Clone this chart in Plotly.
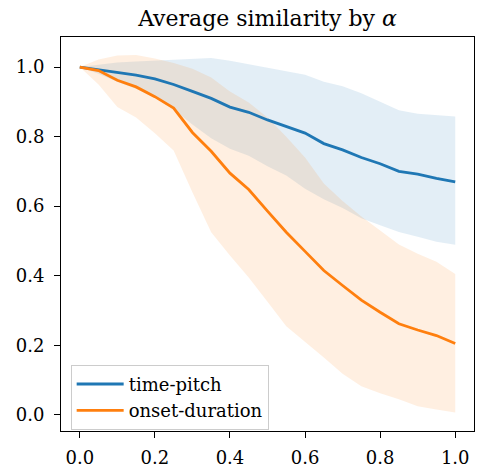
import plotly.graph_objects as go

alpha = [0.00, 0.05, 0.10, 0.15, 0.20, 0.25, 0.30, 0.35, 0.40, 0.45, 0.50,
         0.55, 0.60, 0.65, 0.70, 0.75, 0.80, 0.85, 0.90, 0.95, 1.00]

tp_mean = [1.000, 0.993, 0.985, 0.977, 0.966, 0.950, 0.930, 0.910, 0.885, 0.870, 0.848,
           0.828, 0.810, 0.780, 0.762, 0.740, 0.722, 0.700, 0.692, 0.680, 0.670]
tp_upper = [1.000, 1.006, 1.013, 1.016, 1.019, 1.022, 1.025, 1.026, 1.018, 1.008, 1.000,
            0.990, 0.978, 0.958, 0.945, 0.925, 0.900, 0.876, 0.866, 0.862, 0.858]
tp_lower = [1.000, 0.981, 0.958, 0.938, 0.913, 0.878, 0.835, 0.795, 0.765, 0.745, 0.715,
            0.688, 0.650, 0.620, 0.595, 0.565, 0.545, 0.526, 0.512, 0.498, 0.489]

od_mean = [1.000, 0.990, 0.962, 0.943, 0.915, 0.882, 0.812, 0.758, 0.695, 0.648, 0.586,
           0.525, 0.470, 0.415, 0.372, 0.330, 0.295, 0.262, 0.244, 0.228, 0.205]
od_upper = [1.000, 1.022, 1.033, 1.035, 1.025, 1.012, 0.995, 0.970, 0.930, 0.898, 0.855,
            0.800, 0.740, 0.665, 0.615, 0.570, 0.530, 0.490, 0.463, 0.440, 0.405]
od_lower = [1.000, 0.950, 0.885, 0.855, 0.810, 0.760, 0.640, 0.525, 0.458, 0.395, 0.325,
            0.255, 0.210, 0.165, 0.118, 0.082, 0.062, 0.045, 0.025, 0.015, 0.007]

series_names = ["time-pitch", "onset-duration"]
x_ticks = [0.0, 0.2, 0.4, 0.6, 0.8, 1.0]
y_ticks = [0.0, 0.2, 0.4, 0.6, 0.8, 1.0]

BLUE = "#1f77b4"
ORANGE = "#ff7f0e"
FONT = "DejaVu Serif"

fig = go.Figure()

for lo, hi, col in [(tp_lower, tp_upper, "rgba(31,119,180,0.125)"),
                    (od_lower, od_upper, "rgba(255,127,14,0.125)")]:
    fig.add_trace(go.Scatter(
        x=alpha + alpha[::-1], y=hi + lo[::-1], fill="toself",
        fillcolor=col, line=dict(width=0), mode="lines",
        showlegend=False, hoverinfo="skip"))

for name, ys, col in [(series_names[0], tp_mean, BLUE), (series_names[1], od_mean, ORANGE)]:
    fig.add_trace(go.Scatter(x=alpha, y=ys, mode="lines", name=name,
                             line=dict(color=col, width=2.8)))

axis_common = dict(showgrid=False, zeroline=False, showline=True, mirror=True,
                   linecolor="black", linewidth=1.1, ticks="outside", ticklen=6,
                   tickwidth=1.1, tickcolor="black", tickformat=".1f",
                   tickfont=dict(family=FONT, size=18, color="black"))

fig.update_xaxes(range=[-0.05, 1.05], tickvals=x_ticks, ticklabelstandoff=4, **axis_common)
fig.update_yaxes(range=[-0.0465, 1.0865], tickvals=y_ticks, ticklabelstandoff=6, **axis_common)

fig.update_layout(
    width=478, height=471,
    margin=dict(l=61, r=3, t=37, b=30),
    plot_bgcolor="white", paper_bgcolor="white",
    title=dict(text="Average similarity by <i>α</i>", x=0.5, xref="paper", xanchor="center",
               y=1, yref="paper", yanchor="bottom", pad=dict(b=11),
               font=dict(family=FONT, size=22, color="black")),
    legend=dict(x=0.0234, y=0.003, xanchor="left", yanchor="bottom",
                bgcolor="rgba(255,255,255,0.8)", bordercolor="#cccccc", borderwidth=1,
                font=dict(family=FONT, size=18, color="black"),
                tracegroupgap=0, itemwidth=47),
)

fig.write_html("out.html", config={"displayModeBar": False},
               post_script="document.body.style.margin='0';document.body.style.overflow='hidden';")
